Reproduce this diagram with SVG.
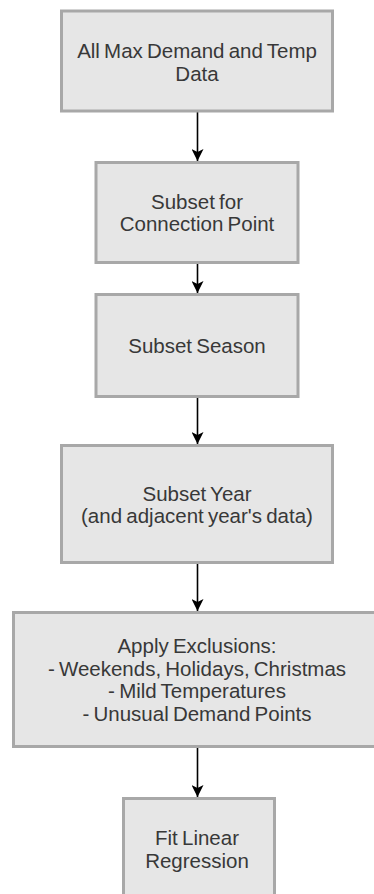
<svg xmlns="http://www.w3.org/2000/svg" width="374" height="894" viewBox="0 0 374 894">
<style>
.box{fill:#e6e6e6;stroke:#a8a8a8;stroke-width:3}
.t{font-family:"Liberation Sans",Arial,Helvetica,sans-serif;font-size:20.5px;fill:#383838;text-anchor:middle;word-spacing:-1.5px}
.c{stroke:#000;stroke-width:1.6;fill:none}
</style>
<defs>
<marker id="ah" viewBox="0 0 12 12" refX="12" refY="6" markerWidth="12" markerHeight="12" markerUnits="userSpaceOnUse" orient="auto">
<path d="M0,0 L12,6 L0,12 L3,6 Z" fill="#000"/>
</marker>
</defs>
<rect width="374" height="894" fill="#fff"/>
<g id="connectors">
<line class="c" x1="197.5" y1="111" x2="197.5" y2="161" marker-end="url(#ah)"/>
<line class="c" x1="197.5" y1="264" x2="197.5" y2="293" marker-end="url(#ah)"/>
<line class="c" x1="197.5" y1="398" x2="197.5" y2="444" marker-end="url(#ah)"/>
<line class="c" x1="197.5" y1="564" x2="197.5" y2="611" marker-end="url(#ah)"/>
<line class="c" x1="197.5" y1="748" x2="197.5" y2="797" marker-end="url(#ah)"/>
</g>
<g id="n1">
<rect class="box" x="61.5" y="11" width="271" height="100"/>
<text class="t" x="197" y="58">All Max Demand and Temp</text>
<text class="t" x="197" y="80.5">Data</text>
</g>
<g id="n2">
<rect class="box" x="96" y="162.5" width="202" height="100"/>
<text class="t" x="197" y="208.5">Subset for</text>
<text class="t" x="197" y="231">Connection Point</text>
</g>
<g id="n3">
<rect class="box" x="96" y="294.5" width="202" height="102"/>
<text class="t" x="197" y="353">Subset Season</text>
</g>
<g id="n4">
<rect class="box" x="61.5" y="445.5" width="271" height="117"/>
<text class="t" x="197" y="500.5">Subset Year</text>
<text class="t" x="197" y="523">(and adjacent year's data)</text>
</g>
<g id="n5">
<rect class="box" x="13.5" y="612.5" width="368" height="134"/>
<text class="t" x="197" y="653">Apply Exclusions:</text>
<text class="t" x="197" y="675.7">- Weekends, Holidays, Christmas</text>
<text class="t" x="197" y="698.4">- Mild Temperatures</text>
<text class="t" x="197" y="721">- Unusual Demand Points</text>
</g>
<g id="n6">
<rect class="box" x="123.5" y="798.5" width="151" height="120"/>
<text class="t" x="197" y="845">Fit Linear</text>
<text class="t" x="197" y="867.5">Regression</text>
</g>
</svg>
